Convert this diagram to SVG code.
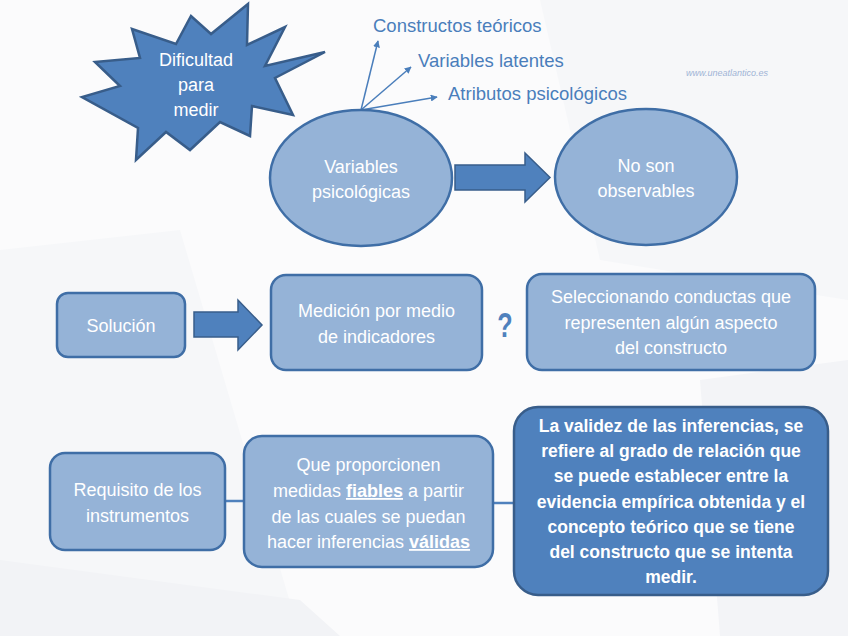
<svg xmlns="http://www.w3.org/2000/svg" width="848" height="636" viewBox="0 0 848 636">
<defs>
<style>
.t{font-family:"Liberation Sans",Arial,sans-serif;fill:#fff;font-size:18px;text-anchor:middle}
.b{font-weight:bold;font-size:17.5px}
.lbl{font-family:"Liberation Sans",Arial,sans-serif;fill:#4a7ebb;font-size:18.5px}
.light{fill:#95b3d7;stroke:#3f6ea6;stroke-width:2.5}
.dark{fill:#4f81bd;stroke:#385d8a;stroke-width:2.5}
.barrow{fill:#4f81bd;stroke:#385d8a;stroke-width:1.5}
.conn{stroke:#4f81bd;stroke-width:2.5;fill:none}
.ray{stroke:#4a7ebb;stroke-width:1.5;fill:none}
</style>
<marker id="ah" viewBox="0 0 10 10" refX="9" refY="5" markerWidth="7" markerHeight="7" orient="auto" markerUnits="userSpaceOnUse">
<path d="M0,0 L10,5 L0,10 z" fill="#4a7ebb"/>
</marker>
</defs>
<rect width="848" height="636" fill="#fbfbfc"/>
<polygon points="0,250 180,230 300,636 0,636" fill="#f6f7f9"/>
<polygon points="540,0 848,0 848,300 600,260" fill="#f6f7f9"/>
<polygon points="700,380 848,360 848,636 720,636" fill="#f3f4f7"/>
<polygon points="0,560 300,600 340,636 0,636" fill="#f2f3f6"/>

<g id="connectors">
<polyline class="ray" points="361,110 378,41" marker-end="url(#ah)"/>
<polyline class="ray" points="361,110 411,67" marker-end="url(#ah)"/>
<polyline class="ray" points="361,110 437,97" marker-end="url(#ah)"/>
<polygon id="arrow1" class="barrow" points="455,165 525,165 525,153 550,177.5 525,202 525,190 455,190"/>
<polygon id="arrow2" class="barrow" points="194,312 238,312 238,300 262,325 238,350 238,337 194,337"/>
<line class="conn" x1="225" y1="501" x2="244" y2="501"/>
<line class="conn" x1="493" y1="503" x2="514" y2="503"/>
</g>

<g id="star">
<polygon class="dark" stroke-width="2" points="248,4 247,45 285,27 265,66 325,52 275,78 293,115 252,106 250,136 220,122 190,150 166,132 136,160 138,128 82,97 120,86 95,62 140,58 132,29 176,44 191,16 211,34"/>
<text class="t" x="196" y="66">Dificultad</text>
<text class="t" x="196" y="91">para</text>
<text class="t" x="196" y="116">medir</text>
</g>

<g id="labels">
<text class="lbl" x="373" y="32">Constructos teóricos</text>
<text class="lbl" x="418" y="67">Variables latentes</text>
<text class="lbl" x="448" y="100">Atributos psicológicos</text>
</g>

<g id="watermark">
<text x="686" y="76" font-family="'Liberation Sans',Arial,sans-serif" font-size="9" font-style="italic" fill="#9fb4d6">www.uneatlantico.es</text>
</g>

<g id="variables">
<ellipse class="light" cx="361" cy="178" rx="91" ry="68"/>
<text class="t" x="361" y="173">Variables</text>
<text class="t" x="361" y="198">psicológicas</text>
</g>

<g id="noson">
<ellipse class="light" cx="646" cy="177" rx="91" ry="68"/>
<text class="t" x="646" y="172">No son</text>
<text class="t" x="646" y="197">observables</text>
</g>

<g id="solucion">
<rect class="light" x="57" y="293" width="128" height="64" rx="11"/>
<text class="t" x="121" y="332">Solución</text>
</g>

<g id="medicion">
<rect class="light" x="271" y="275" width="211" height="95" rx="15"/>
<text class="t" x="376.5" y="317">Medición por medio</text>
<text class="t" x="376.5" y="343">de indicadores</text>
</g>

<g id="question">
<text x="0" y="0" transform="translate(505,337) scale(0.7,1)" font-family="'Liberation Sans',Arial,sans-serif" font-size="36" font-weight="bold" fill="#4f81bd" text-anchor="middle">?</text>
</g>

<g id="seleccionando">
<rect class="light" x="527" y="274" width="288" height="96" rx="15"/>
<text class="t" x="671" y="303">Seleccionando conductas que</text>
<text class="t" x="671" y="329">representen algún aspecto</text>
<text class="t" x="671" y="354">del constructo</text>
</g>

<g id="requisito">
<rect class="light" x="50" y="453" width="175" height="97" rx="15"/>
<text class="t" x="137.5" y="496">Requisito de los</text>
<text class="t" x="137.5" y="522">instrumentos</text>
</g>

<g id="proporcionen">
<rect class="light" x="244" y="436" width="249" height="131" rx="18"/>
<text class="t" x="368.5" y="471">Que proporcionen</text>
<text class="t" x="368.5" y="497">medidas <tspan font-weight="bold" text-decoration="underline">fiables</tspan> a partir</text>
<text class="t" x="368.5" y="523">de las cuales se puedan</text>
<text class="t" x="368.5" y="548">hacer inferencias <tspan font-weight="bold" text-decoration="underline">válidas</tspan></text>
</g>

<g id="validez">
<rect class="dark" x="514" y="407" width="314" height="188" rx="24"/>
<text class="t b" x="671" y="432">La validez de las inferencias, se</text>
<text class="t b" x="671" y="457">refiere al grado de relación que</text>
<text class="t b" x="671" y="482">se puede establecer entre la</text>
<text class="t b" x="671" y="508">evidencia empírica obtenida y el</text>
<text class="t b" x="671" y="533">concepto teórico que se tiene</text>
<text class="t b" x="671" y="558">del constructo que se intenta</text>
<text class="t b" x="671" y="583">medir.</text>
</g>
</svg>
